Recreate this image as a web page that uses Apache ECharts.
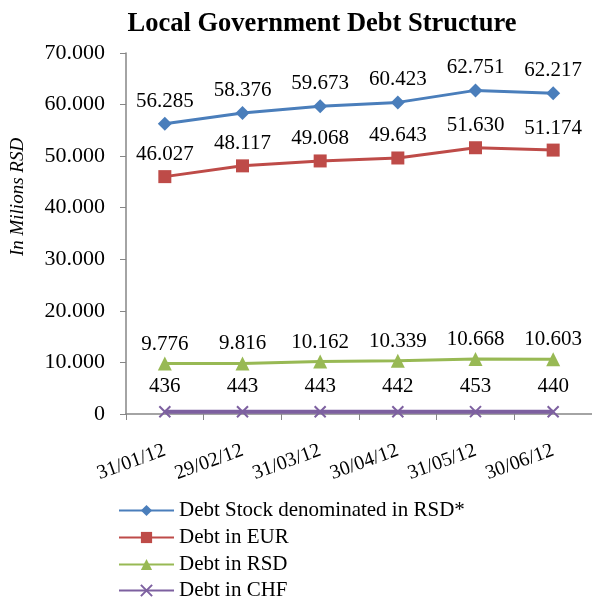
<!DOCTYPE html>
<html>
<head>
<meta charset="utf-8">
<script src="https://cdn.jsdelivr.net/npm/echarts@6/dist/echarts.min.js"></script>
<style>html,body{margin:0;padding:0;background:#fff}#c{width:592px;height:600px}</style>
</head>
<body>
<div id="c"></div>
<script>
const categories = ['31/01/12','29/02/12','31/03/12','30/04/12','31/05/12','30/06/12'];
const debtStock = [56285, 58376, 59673, 60423, 62751, 62217];
const debtEUR = [46027, 48117, 49068, 49643, 51630, 51174];
const debtRSD = [9776, 9816, 10162, 10339, 10668, 10603];
const debtCHF = [436, 443, 443, 442, 453, 440];
const seriesNames = ['Debt Stock denominated in RSD*','Debt in EUR','Debt in RSD','Debt in CHF'];

const FONT = "'Liberation Serif','Times New Roman',serif";
function fmt(v){
  return String(Math.round(v)).replace(/\B(?=(\d{3})+(?!\d))/g,'.');
}
const chart = echarts.init(document.getElementById('c'), null, {renderer:'canvas'});
function mk(name, data, color, symbol, size, dist, extra){
  return Object.assign({
    name: name, type:'line', data: data,
    symbol: symbol, symbolSize: size,
    lineStyle:{color: color, width: 3},
    itemStyle:{color: color},
    label:{show:true, position:'top', distance:dist, formatter: p=>fmt(p.value),
      fontFamily: FONT, fontSize: 21, color:'#000'},
    emphasis:{disabled:true},
    animation:false
  }, extra||{});
}
const legendBase = {orient:'vertical', left:118, padding:0, itemGap:6, itemWidth:55, itemHeight:14,
    textStyle:{fontFamily:FONT, fontSize:21, color:'#000'}};
const option = {
  backgroundColor:'#fff',
  title:{text:'Local Government Debt Structure', left:322, textAlign:'center', top:11, padding:0,
    textStyle:{fontFamily:FONT, fontWeight:'bold', fontSize:26.5, color:'#000'}},
  grid:{left:126, right:0, top:53, bottom:186, containLabel:false},
  legend:[
    Object.assign({}, legendBase, {top:500, data: seriesNames.slice(0,3)}),
    Object.assign({}, legendBase, {top:580, data: seriesNames.slice(3)})
  ],
  graphic:[{type:'text', x:18, y:197, rotation:Math.PI/2,
    style:{text:'In Milions RSD', font:"italic 19px 'Liberation Serif','Times New Roman',serif",
      fill:'#000', textAlign:'center', textVerticalAlign:'middle'}}],
  xAxis:{type:'category', data:categories, boundaryGap:true,
    axisLine:{lineStyle:{color:'#868686', width:1.5}},
    axisTick:{show:true, length:6, lineStyle:{color:'#868686'}},
    splitLine:{show:false}, splitArea:{show:false},
    axisLabel:{rotate:20, margin:36, fontFamily:FONT, fontSize:20, color:'#000'}},
  yAxis:{type:'value', min:0, max:70000, interval:10000,
    axisLine:{show:true, lineStyle:{color:'#868686', width:1.5}},
    axisTick:{show:true, length:6, lineStyle:{color:'#868686'}},
    splitLine:{show:false},
    axisLabel:{margin:21, formatter: v=>fmt(v), fontFamily:FONT, fontSize:22, color:'#000'}},
  series:[
    mk(seriesNames[0], debtStock, '#4A7EBB', 'diamond', 14, 5),
    mk(seriesNames[1], debtEUR, '#BE4B48', 'rect', 13, 5),
    mk(seriesNames[2], debtRSD, '#98B954', 'triangle', 14, 2),
    mk(seriesNames[3], debtCHF, '#7D60A0', 'path://M0,0L10,10M10,0L0,10', 11, 8,
      {lineStyle:{color:'#7D60A0', width:4},
       itemStyle:{color:'#7D60A0', borderColor:'#7D60A0', borderWidth:2}})
  ]
};
chart.setOption(option);
</script>
</body>
</html>
